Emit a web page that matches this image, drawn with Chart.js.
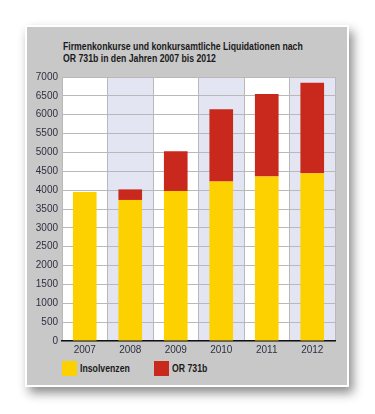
<!DOCTYPE html>
<html>
<head>
<meta charset="utf-8">
<script src="https://cdn.jsdelivr.net/npm/chart.js@4"></script>
<style>
  body { margin: 0; background: #fff; width: 375px; height: 414px; position: relative; overflow: hidden; }
  #panel {
    position: absolute; left: 25px; top: 25px; width: 320px; height: 358px;
    background: #c8c8c8; border: 2px solid #fff;
    box-shadow: 4px 6px 10px rgba(0,0,0,0.45);
  }
  #title {
    position: absolute; left: 63px; top: 41px; margin: 0; white-space: nowrap;
    font: bold 10px "Liberation Sans", sans-serif;
    line-height: 12px; color: #1a1a1a;
    transform: scaleX(0.87); transform-origin: left top;
  }
  #legend {
    position: absolute; left: 62px; top: 361px;
    font: bold 10px "Liberation Sans", sans-serif; color: #1a1a1a;
  }
  #legend span.item { position: absolute; white-space: nowrap; line-height: 15px; }
  #legend i { display: inline-block; width: 15px; height: 15px; vertical-align: top; margin-right: 3px; }
  #legend b { display: inline-block; transform: scaleX(0.87); transform-origin: left center; }
  canvas { position: absolute; left: 0; top: 0; }
</style>
</head>
<body>
<div id="panel"></div>
<p id="title">Firmenkonkurse und konkursamtliche Liquidationen nach<br>OR 731b in den Jahren 2007 bis 2012</p>
<div id="legend"></div>
<canvas id="chart" width="375" height="414"></canvas>
<script>
const years = ["2007", "2008", "2009", "2010", "2011", "2012"];
const insolvenzen = [3950, 3740, 3975, 4230, 4365, 4445];
const or731b = [0, 280, 1055, 1915, 2185, 2405];
const seriesNames = ["Insolvenzen", "OR 731b"];
const seriesColors = ["#fdd000", "#c9281d"];

// alternating column background (white / lavender)
const columnBands = {
    id: "columnBands",
    beforeDraw(chart) {
        const { ctx, chartArea: a, scales: { x } } = chart;
        const w = (a.right - a.left) / years.length;
        ctx.save();
        years.forEach((y, i) => {
            ctx.fillStyle = i % 2 ? "#e3e5f3" : "#ffffff";
            const cx = x.getPixelForValue(i);
            ctx.fillRect(cx - w / 2, a.top, w, a.bottom - a.top);
        });
        ctx.restore();
    }
};

new Chart(document.getElementById("chart"), {
    type: "bar",
    data: {
        labels: years,
        datasets: [
            { label: seriesNames[0], data: insolvenzen, backgroundColor: seriesColors[0] },
            { label: seriesNames[1], data: or731b, backgroundColor: seriesColors[1] }
        ]
    },
    options: {
        responsive: false,
        animation: false,
        events: [],
        layout: { padding: { left: 30, right: 40, top: 77, bottom: 55 } },
        datasets: { bar: { categoryPercentage: 1, barPercentage: 0.52 } },
        plugins: { legend: { display: false }, title: { display: false }, tooltip: { enabled: false } },
        scales: {
            x: {
                stacked: true,
                grid: { color: "#b9b9b9", lineWidth: 1, drawTicks: false, offset: true },
                border: { color: "#111", width: 1.5 },
                ticks: { color: "#2e3040", padding: 3, font: { family: "Liberation Sans", size: 10 } }
            },
            y: {
                stacked: true,
                min: 0, max: 7000,
                afterFit(scale) { scale.width = 32; },
                grid: { color: "#b9b9b9", lineWidth: 1, drawTicks: false },
                border: { display: false },
                ticks: {
                    stepSize: 500, color: "#2e3040", padding: 4,
                    font: { family: "Liberation Sans", size: 10 },
                    callback: v => String(v)
                }
            }
        }
    },
    plugins: [columnBands]
});

// legend
const legend = document.getElementById("legend");
const legendX = [0, 92];
seriesNames.forEach((name, i) => {
    const s = document.createElement("span");
    s.className = "item";
    s.style.left = legendX[i] + "px";
    s.innerHTML = '<i style="background:' + seriesColors[i] + '"></i><b>' + name + '</b>';
    legend.appendChild(s);
});
</script>
</body>
</html>
